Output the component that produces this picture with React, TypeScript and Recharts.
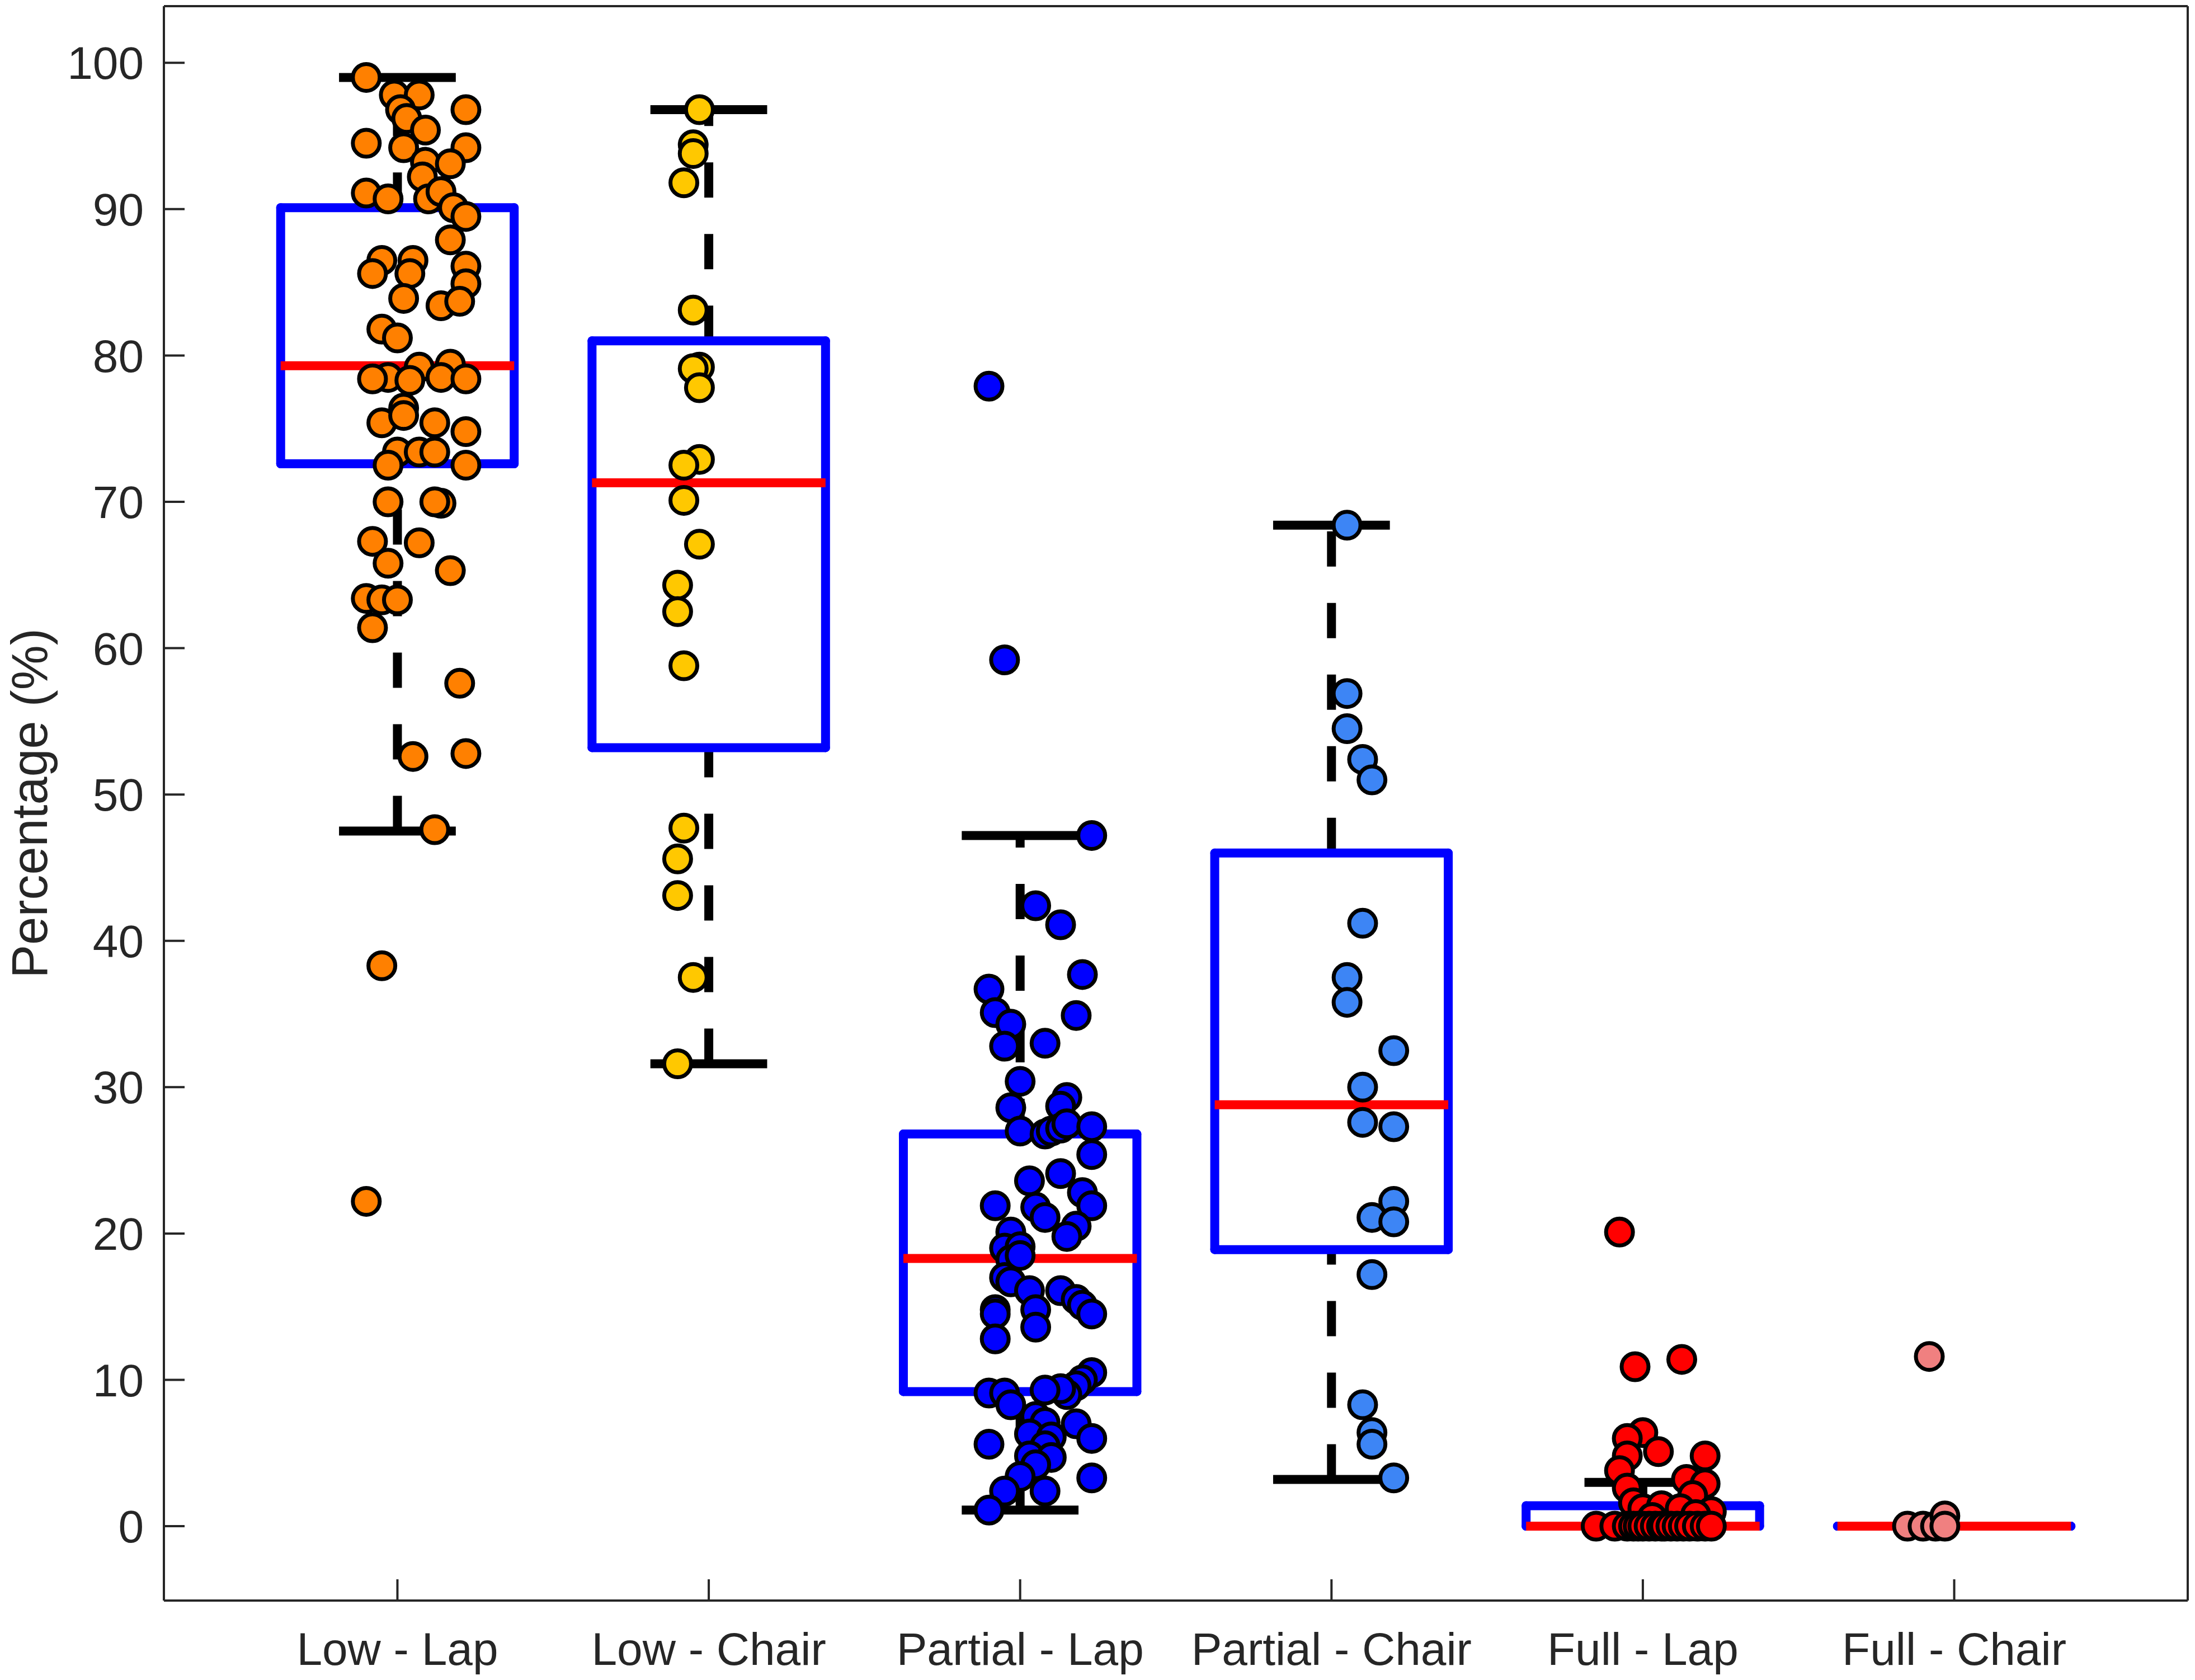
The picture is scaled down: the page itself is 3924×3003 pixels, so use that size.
import React from 'react';
import { ComposedChart, Scatter, XAxis, YAxis, ReferenceLine } from 'recharts';

const CATEGORIES = ['Low - Lap', 'Low - Chair', 'Partial - Lap', 'Partial - Chair', 'Full - Lap', 'Full - Chair'];
const POINT_COLORS = ['#FF8000', '#FFC800', '#0000FF', '#3D85F5', '#FF0000', '#F08080'];
const Y_TICKS = [0, 10, 20, 30, 40, 50, 60, 70, 80, 90, 100];

// box statistics per category
const WHISKER_LOW = [47.5, 31.6, 1.1, 3.2, 0, 0];
const Q1 = [72.6, 53.2, 9.2, 18.9, 0, 0];
const MEDIAN = [79.3, 71.3, 18.3, 28.8, 0, 0];
const Q3 = [90.1, 81.0, 26.8, 46.0, 1.4, 0];
const WHISKER_HIGH = [99.0, 96.8, 47.2, 68.4, 3.0, 0];

// [jitter offset, value]
const lowLapPoints: [number, number][] = [
  [-0.10, 99.0], [-0.01, 97.8], [0.07, 97.8], [0.01, 96.8], [0.22, 96.8], [0.03, 96.2],
  [-0.10, 94.5], [0.02, 94.2], [0.09, 95.4], [0.22, 94.2], [0.09, 93.2], [0.17, 93.1],
  [0.08, 92.2], [-0.10, 91.1], [-0.03, 90.7], [0.10, 90.7], [0.14, 91.2], [0.18, 90.1],
  [0.22, 89.5], [0.17, 87.9], [-0.05, 86.5], [0.05, 86.5], [-0.08, 85.6], [0.04, 85.6],
  [0.22, 86.1], [0.22, 84.9], [0.02, 83.9], [0.14, 83.4], [0.20, 83.7], [-0.05, 81.8],
  [0.00, 81.2], [-0.03, 78.5], [-0.08, 78.4], [0.07, 79.2], [0.17, 79.4], [0.14, 78.5],
  [0.22, 78.4], [0.04, 78.3], [-0.05, 75.4], [0.02, 76.4], [0.02, 75.9], [0.12, 75.4],
  [0.22, 74.8], [0.00, 73.4], [0.07, 73.4], [0.12, 73.4], [-0.03, 72.5], [0.22, 72.5],
  [-0.03, 70.0], [0.14, 69.9], [0.12, 70.0], [-0.08, 67.3], [0.07, 67.2], [-0.03, 65.8],
  [0.17, 65.3], [-0.10, 63.4], [-0.05, 63.3], [0.00, 63.3], [-0.08, 61.4], [0.20, 57.6],
  [0.05, 52.6], [0.22, 52.8], [0.12, 47.6], [-0.05, 38.3], [-0.10, 22.2],
];

const lowChairPoints: [number, number][] = [
  [-0.03, 96.8], [-0.05, 94.4], [-0.05, 93.8], [-0.08, 91.8], [-0.05, 83.1], [-0.03, 79.2],
  [-0.05, 79.1], [-0.03, 77.8], [-0.03, 72.9], [-0.08, 72.5], [-0.08, 70.1], [-0.03, 67.1],
  [-0.10, 64.3], [-0.10, 62.5], [-0.08, 58.8], [-0.08, 47.7], [-0.10, 45.6], [-0.10, 43.1],
  [-0.05, 37.5], [-0.10, 31.6],
];

const partialLapPoints: [number, number][] = [
  [-0.10, 77.9], [-0.05, 59.2], [0.23, 47.2], [0.05, 42.4], [0.13, 41.1], [0.20, 37.7],
  [-0.10, 36.7], [-0.08, 35.1], [-0.03, 34.3], [0.18, 34.9], [-0.05, 32.8], [0.08, 33.0],
  [0.00, 30.4], [-0.03, 28.6], [0.15, 29.3], [0.13, 28.7], [0.00, 27.0], [0.08, 26.8],
  [0.10, 27.0], [0.13, 27.2], [0.15, 27.5], [0.23, 27.3], [0.23, 25.4], [0.13, 24.1],
  [0.03, 23.6], [-0.08, 21.9], [0.05, 21.8], [0.20, 22.8], [0.23, 21.9], [0.08, 21.1],
  [0.18, 20.5], [0.15, 19.8], [-0.03, 20.1], [-0.05, 19.0], [0.00, 19.1], [-0.03, 18.2],
  [0.00, 18.5], [-0.05, 17.0], [-0.03, 16.7], [0.03, 16.1], [0.13, 16.1], [0.18, 15.5],
  [0.20, 15.1], [0.23, 14.5], [-0.08, 14.8], [-0.08, 14.5], [0.05, 14.8], [0.05, 13.6],
  [-0.08, 12.8], [0.23, 10.5], [0.20, 10.0], [0.18, 9.6], [0.15, 9.0], [0.13, 9.4],
  [0.08, 9.3], [-0.10, 9.1], [-0.05, 9.1], [-0.03, 8.3], [0.05, 7.5], [0.08, 7.1],
  [0.18, 7.0], [0.03, 6.3], [0.10, 6.1], [0.23, 6.0], [-0.10, 5.6], [0.08, 5.5],
  [0.03, 4.8], [0.10, 4.7], [0.05, 4.2], [0.00, 3.4], [0.23, 3.3], [-0.05, 2.4],
  [0.08, 2.4], [-0.10, 1.1],
];

const partialChairPoints: [number, number][] = [
  [0.05, 68.4], [0.05, 56.9], [0.05, 54.5], [0.10, 52.4], [0.13, 51.0], [0.10, 41.2],
  [0.05, 37.5], [0.05, 35.8], [0.20, 32.5], [0.10, 30.0], [0.10, 27.6], [0.20, 27.3],
  [0.20, 22.2], [0.13, 21.1], [0.20, 20.8], [0.13, 17.2], [0.10, 8.3], [0.13, 6.4],
  [0.13, 5.6], [0.20, 3.3],
];

const fullLapPoints: [number, number][] = [
  [-0.075, 20.1], [-0.025, 10.9], [0.125, 11.4], [0.00, 6.4], [-0.05, 6.0], [0.05, 5.1],
  [0.20, 4.8], [-0.05, 4.8], [-0.075, 3.8], [-0.05, 2.6], [0.14, 3.2], [0.20, 2.9],
  [0.16, 2.1], [-0.03, 1.6], [0.22, 1.0], [0.00, 1.2], [0.06, 1.4], [0.12, 1.2],
  [0.17, 0.8], [0.03, 0.6],
  [-0.15, 0], [-0.09, 0], [-0.05, 0], [-0.03, 0], [-0.015, 0], [0.00, 0], [0.02, 0],
  [0.04, 0], [0.06, 0], [0.07, 0], [0.09, 0], [0.11, 0], [0.13, 0], [0.15, 0],
  [0.175, 0], [0.20, 0], [0.22, 0],
];

const fullChairPoints: [number, number][] = [
  [-0.08, 11.6], [-0.15, 0], [-0.10, 0], [-0.06, 0], [-0.03, 0.7], [-0.03, 0],
];

const GROUP_POINTS = [lowLapPoints, lowChairPoints, partialLapPoints, partialChairPoints, fullLapPoints, fullChairPoints];

const BOX_HALF = 0.375;
const CAP_HALF = 0.1875;
const LINE_W = 16;
const FONT = '"Liberation Sans", Arial, Helvetica, sans-serif';
const AXIS_COLOR = '#262626';

const YTitle = (props: any) => {
  const vb = props.viewBox ?? { x: 0, y: 11, width: 293, height: 2850 };
  const cx = 52;
  const cy = vb.y + vb.height / 2;
  return (
    <text
      x={cx}
      y={cy}
      dy="0.355em"
      transform={`rotate(-90, ${cx}, ${cy})`}
      textAnchor="middle"
      fill={AXIS_COLOR}
      fontSize={90}
      fontFamily={FONT}
    >
      Percentage (%)
    </text>
  );
};

const seg = (x1: number, y1: number, x2: number, y2: number) => [
  { x: x1, y: y1 },
  { x: x2, y: y2 },
];

export default function App() {
  const pos = CATEGORIES.map((_, i) => i + 1);

  return (
    <div style={{ position: 'absolute', left: 0, top: 0, background: '#fff' }}>
      <ComposedChart
        width={3924}
        height={3003}
        margin={{ top: 10, right: 12, bottom: 0, left: 0 }}
      >
        <XAxis
          xAxisId={0}
          type="number"
          dataKey="x"
          domain={[0.25, 6.75]}
          ticks={pos}
          allowDataOverflow
          tickFormatter={(v: number) => CATEGORIES[Math.round(v) - 1] ?? ''}
          height={142}
          tickSize={-38}
          tickMargin={95}
          axisLine={{ stroke: AXIS_COLOR, strokeWidth: 4 }}
          tickLine={{ stroke: AXIS_COLOR, strokeWidth: 4 }}
          tick={{ fill: AXIS_COLOR, fontSize: 82, fontFamily: FONT }}
        />
        <XAxis
          xAxisId="top"
          orientation="top"
          type="number"
          domain={[0.25, 6.75]}
          ticks={pos}
          allowDataOverflow
          height={1}
          tickSize={-38}
          tick={false}
          axisLine={{ stroke: AXIS_COLOR, strokeWidth: 4 }}
          tickLine={{ stroke: AXIS_COLOR, strokeWidth: 4 }}
        />
        <YAxis
          yAxisId={0}
          type="number"
          dataKey="y"
          domain={[-5.08, 103.87]}
          ticks={Y_TICKS}
          allowDataOverflow
          width={293}
          tickSize={-37}
          tickMargin={73}
          axisLine={{ stroke: AXIS_COLOR, strokeWidth: 4 }}
          tickLine={{ stroke: AXIS_COLOR, strokeWidth: 4 }}
          tick={{ fill: AXIS_COLOR, fontSize: 82, fontFamily: FONT }}
          label={(p: any) => <YTitle {...p} />}
        />
        <YAxis
          yAxisId="right"
          orientation="right"
          type="number"
          domain={[-5.08, 103.87]}
          ticks={Y_TICKS}
          allowDataOverflow
          width={1}
          tickSize={-37}
          tick={false}
          axisLine={{ stroke: AXIS_COLOR, strokeWidth: 4 }}
          tickLine={{ stroke: AXIS_COLOR, strokeWidth: 4 }}
        />

        {/* whiskers */}
        {pos.map((p, i) => (
          <ReferenceLine
            key={`wu-${i}`}
            segment={seg(p, Q3[i], p, WHISKER_HIGH[i])}
            stroke="#000"
            strokeWidth={LINE_W}
            strokeDasharray="63 65"
          />
        ))}
        {pos.map((p, i) => (
          <ReferenceLine
            key={`wl-${i}`}
            segment={seg(p, WHISKER_LOW[i], p, Q1[i])}
            stroke="#000"
            strokeWidth={LINE_W}
            strokeDasharray="63 65"
          />
        ))}
        {/* whisker caps */}
        {pos.map((p, i) => (
          <ReferenceLine
            key={`cu-${i}`}
            segment={seg(p - CAP_HALF, WHISKER_HIGH[i], p + CAP_HALF, WHISKER_HIGH[i])}
            stroke="#000"
            strokeWidth={LINE_W}
          />
        ))}
        {pos.map((p, i) => (
          <ReferenceLine
            key={`cl-${i}`}
            segment={seg(p - CAP_HALF, WHISKER_LOW[i], p + CAP_HALF, WHISKER_LOW[i])}
            stroke="#000"
            strokeWidth={LINE_W}
          />
        ))}
        {/* boxes */}
        {pos.flatMap((p, i) => [
          seg(p - BOX_HALF, Q1[i], p + BOX_HALF, Q1[i]),
          seg(p - BOX_HALF, Q3[i], p + BOX_HALF, Q3[i]),
          seg(p - BOX_HALF, Q1[i], p - BOX_HALF, Q3[i]),
          seg(p + BOX_HALF, Q1[i], p + BOX_HALF, Q3[i]),
        ].map((s, k) => (
          <ReferenceLine
            key={`box-${i}-${k}`}
            segment={s}
            stroke="#0000FF"
            strokeWidth={LINE_W}
            strokeLinecap="round"
          />
        )))}
        {/* medians */}
        {pos.map((p, i) => (
          <ReferenceLine
            key={`med-${i}`}
            segment={seg(p - BOX_HALF, MEDIAN[i], p + BOX_HALF, MEDIAN[i])}
            stroke="#FF0000"
            strokeWidth={LINE_W}
          />
        ))}

        {GROUP_POINTS.map((pts, i) => (
          <Scatter
            key={`pts-${i}`}
            name={CATEGORIES[i]}
            data={pts.map(([dx, v]) => ({ x: i + 1 + dx, y: v }))}
            isAnimationActive={false}
            shape={(sp: any) => (
              <circle
                cx={sp.cx}
                cy={sp.cy}
                r={24}
                fill={POINT_COLORS[i]}
                stroke="#000"
                strokeWidth={7}
              />
            )}
          />
        ))}
      </ComposedChart>
    </div>
  );
}
